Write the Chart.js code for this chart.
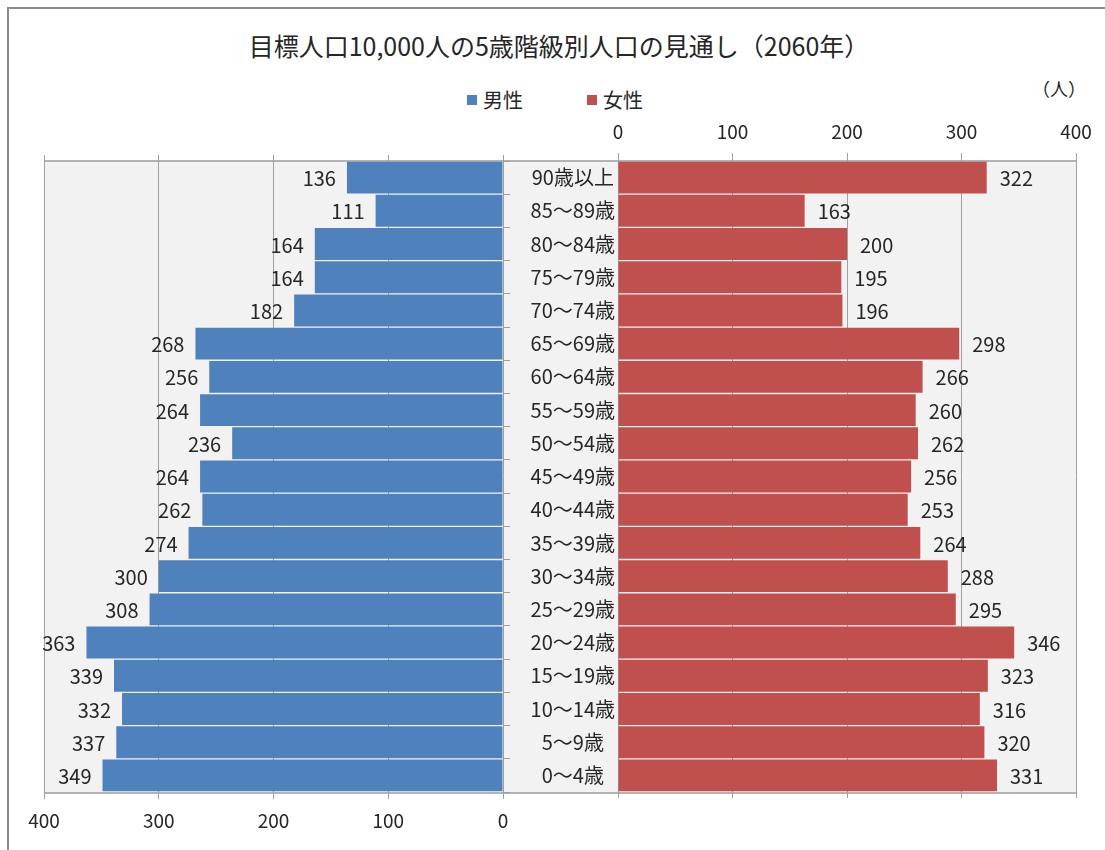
<!DOCTYPE html>
<html lang="ja">
<head>
<meta charset="utf-8">
<script src="https://cdn.jsdelivr.net/npm/chart.js@4/dist/chart.umd.min.js"></script>
<style>
  html, body { margin: 0; padding: 0; background: #fff; overflow: hidden; }
  body { width: 1105px; height: 850px; position: relative; font-family: "Noto Sans CJK JP", sans-serif; color: #262626; }
  #frame { position: absolute; left: 7px; top: 7px; width: 1200px; height: 1000px; border: 2px solid #8c8c8c; }
  #plotbg { position: absolute; left: 44px; top: 160px; width: 1032px; height: 630px; background: #f2f2f2;
            border-top: 2px solid #b3b3b3; border-bottom: 2px solid #b3b3b3; }
  #title { position: absolute; left: 0; width: 1118px; top: 27px; text-align: center; font-size: 25px; }
  #legend { position: absolute; top: 85px; left: 467px; font-size: 20px; display: flex; }
  #legend span.item { display: flex; align-items: center; margin-right: 64px; }
  #legend i { display: inline-block; width: 10px; height: 10px; margin-right: 6px; }
  #unit { position: absolute; left: 1032px; top: 75px; font-size: 18px; }
  canvas { position: absolute; left: 0; top: 0; }
</style>
</head>
<body>
<div id="frame"></div>
<div id="plotbg"></div>
<div id="title">目標人口10,000人の5歳階級別人口の見通し（2060年）</div>
<div id="legend">
  <span class="item"><i style="background:#4f81bd"></i>男性</span>
  <span class="item"><i style="background:#c0504d"></i>女性</span>
</div>
<div id="unit">（人）</div>
<canvas id="male" width="1105" height="850"></canvas>
<canvas id="female" width="1105" height="850"></canvas>
<script>
const ageGroups = ['90歳以上', '85～89歳', '80～84歳', '75～79歳', '70～74歳', '65～69歳', '60～64歳',
    '55～59歳', '50～54歳', '45～49歳', '40～44歳', '35～39歳', '30～34歳', '25～29歳', '20～24歳',
    '15～19歳', '10～14歳', '5～9歳', '0～4歳'];
const maleValues = [136, 111, 164, 164, 182, 268, 256, 264, 236, 264, 262, 274, 300, 308, 363, 339, 332, 337, 349];
const femaleValues = [322, 163, 200, 195, 196, 298, 266, 260, 262, 256, 253, 264, 288, 295, 346, 323, 316, 320, 331];
const axisMax = 400;
const axisStep = 100;

const fontFamily = '"Noto Sans CJK JP", sans-serif';
const gridColor = '#a0a0a0';
const textColor = '#262626';

// value labels next to the bar ends
const valueLabels = {
    id: 'valueLabels',
    afterDatasetsDraw(chart, args, opts) {
        const ctx = chart.ctx;
        const meta = chart.getDatasetMeta(0);
        const data = chart.data.datasets[0].data;
        ctx.save();
        ctx.font = '20px ' + fontFamily;
        ctx.fillStyle = textColor;
        ctx.textBaseline = 'middle';
        ctx.textAlign = opts.side === 'left' ? 'right' : 'left';
        meta.data.forEach((bar, i) => {
            const x = opts.side === 'left' ? bar.x - 11 : bar.x + 13;
            ctx.fillText(String(data[i]), x, bar.y + 1);
        });
        ctx.restore();
    }
};

// axis without labels, only for the small tick marks on the opposite side
function tickOnlyAxis(position, reverse) {
    return {
        type: 'linear',
        position: position,
        reverse: reverse,
        min: 0,
        max: axisMax,
        afterFit(scale) { scale.height = 6; },
        ticks: { display: false, stepSize: axisStep },
        grid: { drawOnChartArea: false, tickLength: 6, color: gridColor },
        border: { display: false }
    };
}

new Chart(document.getElementById('male'), {
    type: 'bar',
    data: {
        labels: ageGroups,
        datasets: [{
            label: '男性',
            data: maleValues,
            backgroundColor: '#4f81bd',
            barPercentage: 1,
            categoryPercentage: 0.96
        }]
    },
    options: {
        indexAxis: 'y',
        responsive: false,
        animation: false,
        layout: { padding: { left: 44, right: 595, top: 155, bottom: 13 } },
        plugins: {
            legend: { display: false },
            tooltip: { enabled: false },
            valueLabels: { side: 'left' }
        },
        scales: {
            x: {
                position: 'bottom',
                reverse: true,
                min: 0,
                max: axisMax,
                afterFit(scale) { scale.height = 45; },
                ticks: { stepSize: axisStep, padding: 10, color: textColor, font: { family: fontFamily, size: 19 } },
                grid: { color: gridColor, tickLength: 7 },
                border: { display: false }
            },
            xTop: tickOnlyAxis('top', true),
            y: {
                position: 'right',
                afterFit(scale) { scale.width = 7; },
                ticks: { display: false },
                grid: { drawOnChartArea: false, offset: true, tickLength: 7, color: gridColor },
                border: { display: false }
            }
        }
    },
    plugins: [valueLabels]
});

new Chart(document.getElementById('female'), {
    type: 'bar',
    data: {
        labels: ageGroups,
        datasets: [{
            label: '女性',
            data: femaleValues,
            backgroundColor: '#c0504d',
            barPercentage: 1,
            categoryPercentage: 0.96
        }]
    },
    options: {
        indexAxis: 'y',
        responsive: false,
        animation: false,
        layout: { padding: { left: 503, right: 29, top: 111, bottom: 52 } },
        plugins: {
            legend: { display: false },
            tooltip: { enabled: false },
            valueLabels: { side: 'right' }
        },
        scales: {
            x: {
                position: 'top',
                min: 0,
                max: axisMax,
                afterFit(scale) { scale.height = 50; },
                ticks: { stepSize: axisStep, padding: 10, color: textColor, font: { family: fontFamily, size: 19 } },
                grid: { color: gridColor, tickLength: 8 },
                border: { display: false }
            },
            xBottom: tickOnlyAxis('bottom', false),
            y: {
                position: 'left',
                afterFit(scale) { scale.width = 115; },
                ticks: { crossAlign: 'center', padding: 3, color: textColor, font: { family: fontFamily, size: 20 } },
                grid: { display: false, drawTicks: false },
                border: { display: false }
            }
        }
    },
    plugins: [valueLabels]
});
</script>
</body>
</html>
